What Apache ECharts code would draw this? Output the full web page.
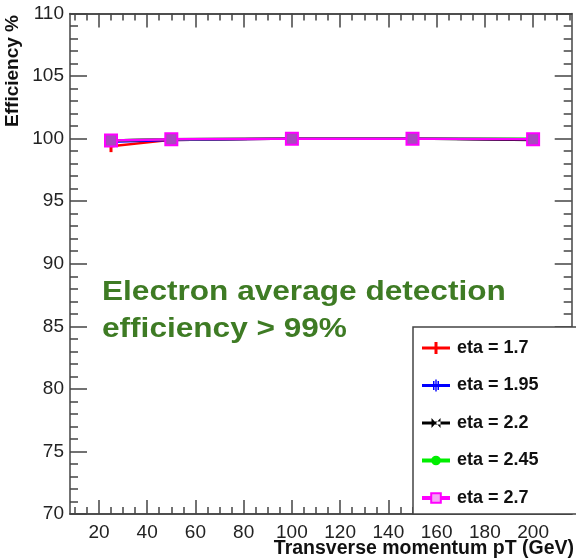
<!DOCTYPE html>
<html>
<head>
<meta charset="utf-8">
<script src="https://cdn.jsdelivr.net/npm/echarts@6/dist/echarts.min.js"></script>
<style>
  html, body { margin: 0; padding: 0; background: #fff; }
  #chart { width: 576px; height: 559px; }
</style>
</head>
<body>
<div id="chart"></div>
<script>
  // transverse momentum points (GeV)
  var ptValues = [25, 50, 100, 150, 200];
  // efficiency % per eta bin
  var eff17 = [99.4, 99.9, 100.0, 100.0, 99.95];
  var eff195 = [99.75, 99.9, 100.0, 100.0, 99.95];
  var eff22 = [99.85, 99.95, 100.0, 100.0, 99.9];
  var eff245 = [99.85, 99.95, 100.0, 100.0, 100.0];
  var eff27 = [99.85, 99.95, 100.0, 100.0, 99.95];
  var seriesNames = ['eta = 1.7', 'eta = 1.95', 'eta = 2.2', 'eta = 2.45', 'eta = 2.7'];
  var xMajorTicks = [20, 40, 60, 80, 100, 120, 140, 160, 180, 200];
  var xMinorTicks = [10, 15, 25, 30, 35, 45, 50, 55, 65, 70, 75, 85, 90, 95, 105, 110, 115,
                     125, 130, 135, 145, 150, 155, 165, 170, 175, 185, 190, 195, 205, 210, 215];

  function pairs(ys) {
    return ptValues.map(function (x, i) { return [x, ys[i]]; });
  }

  var axisCol = '#444';
  var font = 'Liberation Sans, Arial, sans-serif';

  function xAx(pos, ticks, len, labels) {
    return {
      type: 'value', min: 8, max: 216, position: pos,
      axisLine: { show: true, lineStyle: { color: axisCol, width: 1.5 } },
      axisTick: { show: true, inside: true, length: len, customValues: ticks,
                  lineStyle: { color: axisCol, width: 1.5 } },
      axisLabel: labels ? { show: true, customValues: ticks, margin: 9,
                            color: '#222', fontSize: 19, fontFamily: font }
                        : { show: false },
      splitLine: { show: false }
    };
  }
  function yAx(pos, labels) {
    return {
      type: 'value', min: 70, max: 110, interval: 5, position: pos,
      axisLine: { show: true, lineStyle: { color: axisCol, width: 1.5 } },
      axisTick: { show: true, inside: true, length: 17, lineStyle: { color: axisCol, width: 1.5 } },
      minorTick: { show: true, splitNumber: 5, length: 8, lineStyle: { color: axisCol, width: 1.5 } },
      axisLabel: { show: labels, margin: 6, color: '#222', fontSize: 19, fontFamily: font },
      splitLine: { show: false }
    };
  }

  // legend icons: thick line with the marker drawn on it
  var barIcon = 'path://M0,4.5H28V7.5H0Z M12.5,0H15.5V12H12.5Z';
  var starIcon = 'path://M0,4.5H28V7.5H0Z M11,1.5H12.5V10.5H11Z M13.3,0H14.7V12H13.3Z M15.5,1.5H17V10.5H15.5Z';
  var crossIcon = 'path://M0,4.5H28V7.5H0Z M9.5,1L18.5,11L18.5,1L9.5,11Z';

  var chart = echarts.init(document.getElementById('chart'));
  var option = {
    animation: false,
    backgroundColor: '#fff',
    grid: { left: 70, right: 4.3, top: 13.5, bottom: 45 },
    xAxis: [
      xAx('bottom', xMajorTicks, 14, true),
      xAx('bottom', xMinorTicks, 7, false),
      xAx('top', xMajorTicks, 14, false),
      xAx('top', xMinorTicks, 7, false)
    ],
    yAxis: [yAx('left', true), yAx('right', false)],
    graphic: [
      { type: 'rect', z: 3, shape: { x: 413, y: 327, width: 180, height: 187 },
        style: { fill: '#fff', stroke: axisCol, lineWidth: 1.5 } },
      { type: 'text', x: 102, y: 293, scaleX: 1.17, z: 5,
        style: { text: 'Electron average detection', fill: '#3e7b24', font: 'bold 27px ' + font,
                 textAlign: 'left', textVerticalAlign: 'middle' } },
      { type: 'text', x: 102, y: 330, scaleX: 1.17, z: 5,
        style: { text: 'efficiency > 99%', fill: '#3e7b24', font: 'bold 27px ' + font,
                 textAlign: 'left', textVerticalAlign: 'middle' } },
      { type: 'text', x: 13, y: 15, rotation: Math.PI / 2,
        style: { text: 'Efficiency %', fill: '#111', font: 'bold 19px ' + font,
                 textAlign: 'right', textVerticalAlign: 'middle' } },
      { type: 'text', x: 574, y: 549,
        style: { text: 'Transverse momentum pT (GeV)', fill: '#111', font: 'bold 19.5px ' + font,
                 textAlign: 'right', textVerticalAlign: 'middle' } }
    ],
    legend: {
      orient: 'vertical', left: 420, top: 339, z: 6,
      itemWidth: 28, itemHeight: 12, itemGap: 19.5, padding: 0,
      textStyle: { fontSize: 18, fontWeight: 'bold', color: '#111', fontFamily: font,
                   lineHeight: 18, padding: [0, 0, 0, 2] },
      lineStyle: { width: 4 },
      data: [
        { name: seriesNames[0], icon: barIcon },
        { name: seriesNames[1], icon: starIcon },
        { name: seriesNames[2], icon: crossIcon },
        { name: seriesNames[3] },
        { name: seriesNames[4], itemStyle: { color: '#f4a6f4', borderColor: '#ff00ff', borderWidth: 2 } }
      ]
    },
    series: [
      { name: seriesNames[0], type: 'line', data: pairs(eff17), color: '#ff0000',
        symbol: 'path://M0,0H2V10H0Z', symbolSize: [3, 12], lineStyle: { width: 2.5 } },
      { name: seriesNames[1], type: 'line', data: pairs(eff195), color: '#0000ff',
        symbol: 'path://M0,0H2V10H0Z', symbolSize: [3, 9], lineStyle: { width: 2.5 } },
      { name: seriesNames[2], type: 'line', data: pairs(eff22), color: '#000000',
        symbol: 'path://M0,0L10,10L10,0L0,10Z', symbolSize: 8, lineStyle: { width: 2.5 } },
      { name: seriesNames[3], type: 'line', data: pairs(eff245), color: '#00ee00',
        symbol: 'circle', symbolSize: 7, lineStyle: { width: 2.5 } },
      { name: seriesNames[4], type: 'line', data: pairs(eff27), color: '#ff00ff',
        symbol: 'rect', symbolSize: 12,
        itemStyle: { color: '#a848c0', borderColor: '#ff00ff', borderWidth: 2 },
        lineStyle: { width: 2.5, color: '#ff00ff' } }
    ]
  };
  chart.setOption(option);
</script>
</body>
</html>
